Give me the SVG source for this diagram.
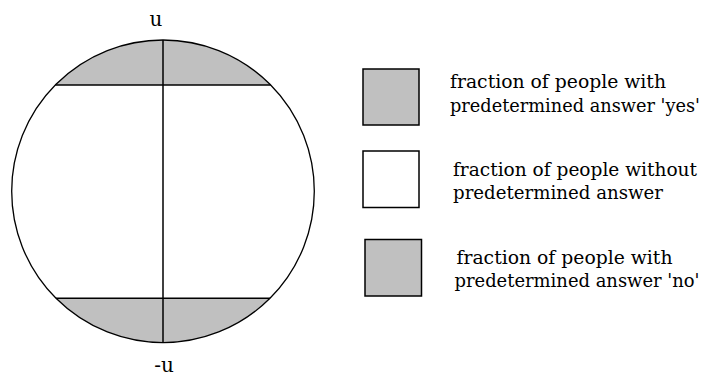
<svg xmlns="http://www.w3.org/2000/svg" width="707" height="376" viewBox="0 0 707 376">
<style>
.seg{fill:#c0c0c0;stroke:none}
.ln{stroke:#000;stroke-width:1.5;fill:none}
.box{stroke:#000;stroke-width:1.5}
</style>
<rect width="707" height="376" fill="#fff"/>
<g id="circle">
<circle cx="163" cy="191.3" r="151.3" fill="#fff" stroke="none"/>
<path class="seg" d="M55.3 85 A151.3 151.3 0 0 1 270.7 85 Z"/>
<path class="seg" d="M56 298.3 A151.3 151.3 0 0 0 270 298.3 Z"/>
<circle cx="163" cy="191.3" r="151.3" fill="none" stroke="#000" stroke-width="1.3"/>
</g>
<g id="connectors">
<line class="ln" x1="55.3" y1="85" x2="270.7" y2="85"/>
<line class="ln" x1="56" y1="298.3" x2="270" y2="298.3"/>
<line class="ln" x1="163" y1="40" x2="163" y2="342.6"/>
</g>
<g font-family="'DejaVu Serif', 'Liberation Serif', serif" font-size="19" fill="#000">
<g id="label-u"><text x="156" y="25.7" text-anchor="middle" font-size="20">u</text></g>
<g id="label-minus-u"><text x="164" y="372" text-anchor="middle" font-size="20">-u</text></g>
<g id="legend-yes">
<rect class="box" x="363" y="69" width="56" height="56" fill="#c0c0c0"/>
<text x="450" y="88" textLength="216" lengthAdjust="spacingAndGlyphs">fraction of people with</text>
<text x="450" y="111.5" font-size="18" textLength="250" lengthAdjust="spacingAndGlyphs">predetermined answer 'yes'</text>
</g>
<g id="legend-none">
<rect class="box" x="363" y="151" width="56" height="56.5" fill="#fff"/>
<text x="453" y="176" textLength="244" lengthAdjust="spacingAndGlyphs">fraction of people without</text>
<text x="453" y="199" textLength="210" lengthAdjust="spacingAndGlyphs">predetermined answer</text>
</g>
<g id="legend-no">
<rect class="box" x="365" y="239.5" width="56.5" height="56.5" fill="#c0c0c0"/>
<text x="456.5" y="263.5" textLength="216" lengthAdjust="spacingAndGlyphs">fraction of people with</text>
<text x="454.5" y="287" font-size="18" textLength="245" lengthAdjust="spacingAndGlyphs">predetermined answer 'no'</text>
</g>
</g>
</svg>
